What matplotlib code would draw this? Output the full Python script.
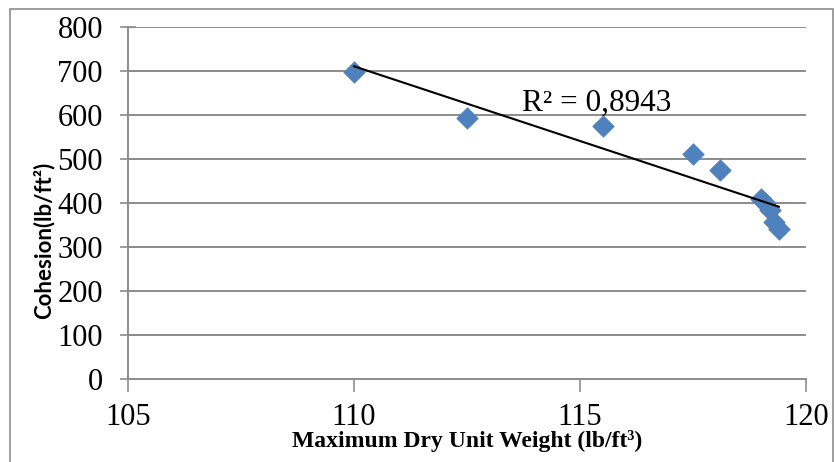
import matplotlib.pyplot as plt
import numpy as np
from matplotlib.patches import Rectangle

# Maximum dry unit weight (lb/ft^3) vs cohesion (lb/ft^2)
dry_unit_weight = [110.0, 112.5, 115.5, 117.5, 118.1, 119.0, 119.1, 119.2, 119.3, 119.4]
cohesion = [697, 594, 574, 512, 476, 410, 400, 385, 356, 340]
r2_label = "R² = 0,8943"

x_ticks = [105, 110, 115, 120]
y_ticks = [0, 100, 200, 300, 400, 500, 600, 700, 800]

fig = plt.figure(figsize=(8.34, 4.62), dpi=100)
W, H = 834, 462
ax = fig.add_axes([128 / W, 1 - 379 / H, (806 - 128) / W, (379 - 27) / H])

ax.set_xlim(105, 120)
ax.set_ylim(0, 800)
ax.set_xticks(x_ticks)
ax.set_yticks(y_ticks)

grey = "#8c8c8c"
for y in y_ticks[1:]:
    ax.axhline(y, color=grey, lw=1.4, zorder=1)

ax.scatter(dry_unit_weight, cohesion, marker="D", s=120, color="#4f81bd",
           edgecolors="#4f81bd", linewidths=0.5, zorder=3)

# linear trendline over the data range
coef = np.polyfit(dry_unit_weight, cohesion, 1)
xs = np.array([min(dry_unit_weight), max(dry_unit_weight)])
ax.plot(xs, np.polyval(coef, xs), color="black", lw=1.5, zorder=4)

ax.text(113.72, 627, r2_label, family="Liberation Serif", fontsize=22.5,
        va="center", ha="left", zorder=5)

for side in ["top", "right"]:
    ax.spines[side].set_visible(False)
for side in ["bottom", "left"]:
    ax.spines[side].set_color(grey)
    ax.spines[side].set_linewidth(1.4)

ax.tick_params(axis="y", direction="inout", length=12, width=1.2, color=grey,
               labelsize=22, pad=12)
ax.tick_params(axis="x", direction="out", length=9, width=1.2, color=grey,
               labelsize=22, pad=8)
for lab in ax.get_xticklabels() + ax.get_yticklabels():
    lab.set_family("Liberation Serif")

ax.set_xlabel("Maximum Dry Unit Weight (lb/ft³)", family="Liberation Serif",
              fontweight="bold", fontsize=17)
ax.xaxis.set_label_coords(0.5, -(441 - 379) / 352)
ax.xaxis.label.set_va("center")
ax.set_ylabel("Cohesion(lb/ft²)", family="Lato", fontweight="bold", fontsize=16)
ax.yaxis.set_label_coords(-(128 - 44) / 678, (379 - 240) / 352)
ax.yaxis.label.set_va("center")

# outer chart frame
fig.add_artist(Rectangle((10 / W, -0.05), (W - 11) / W, 1 - 9 / H + 0.05,
                         transform=fig.transFigure, fill=False,
                         edgecolor=grey, lw=1.2))

fig.savefig("out.png", dpi=100)
